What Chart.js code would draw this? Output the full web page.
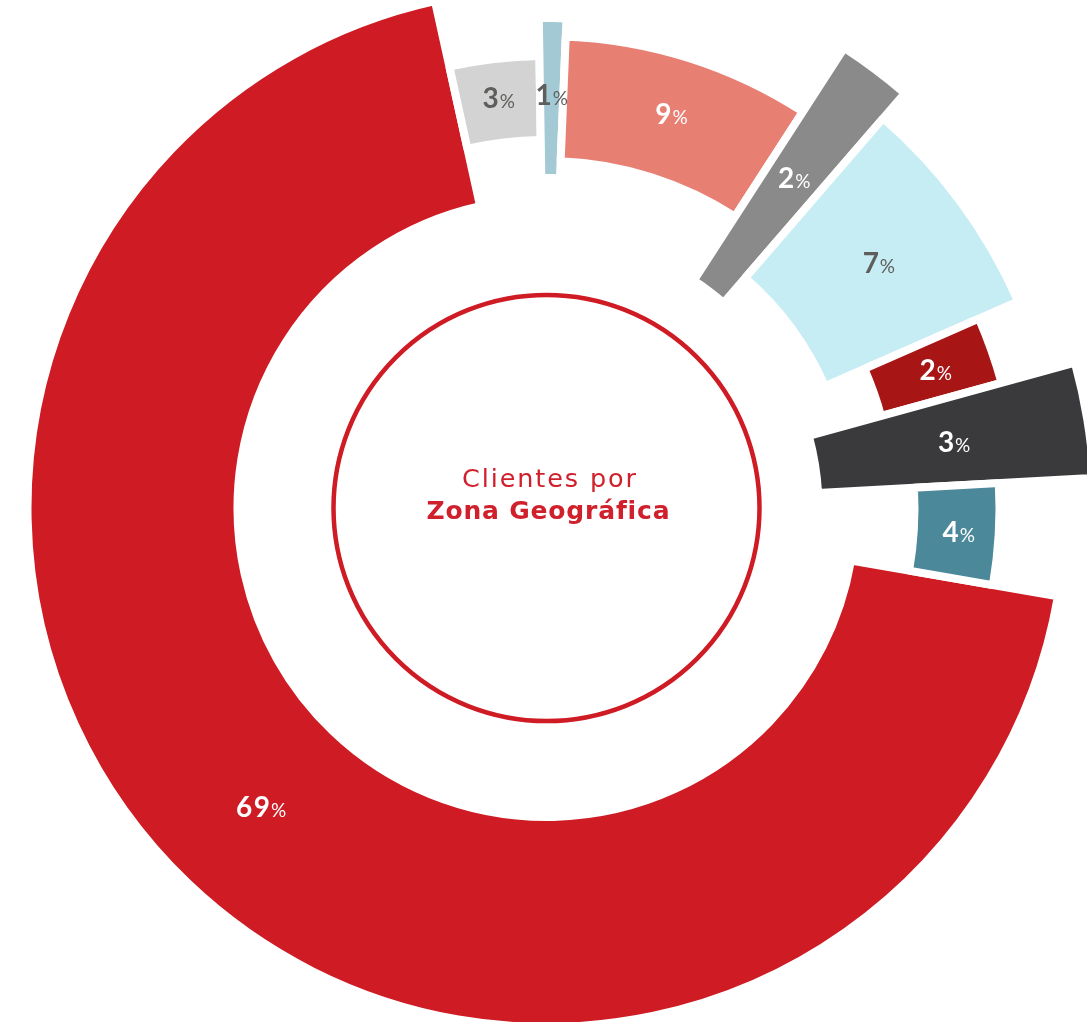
<!DOCTYPE html>
<html>
<head>
<meta charset="utf-8">
<title>Clientes por Zona Geográfica</title>
<script src="https://cdn.jsdelivr.net/npm/chart.js@4.4.1/dist/chart.umd.min.js"></script>
<style>
  html, body { margin: 0; padding: 0; background: #fff; }
  #wrap { width: 1087px; height: 1022px; }
</style>
</head>
<body>
<div id="wrap"><canvas id="zonaChart"></canvas></div>
<script>
// Zones, clockwise from the big slice (shares)
const zones = ['Zona 1', 'Zona 2', 'Zona 3', 'Zona 4', 'Zona 5', 'Zona 6', 'Zona 7', 'Zona 8', 'Zona 9'];
const shares = [68.9, 3.2, 0.9, 8.5, 2.2, 7.1, 2.3, 3.4, 3.6];
const centerTitle = ['Clientes por', 'Zona Geográfica'];

const sliceColors = ['#CE1B24', '#D3D3D3', '#A2C9D4', '#E87F73', '#8A8A8A', '#C7EDF4', '#A81515', '#3A3A3C', '#4B8899'];
const labelColors = ['#fff', '#5E5E5C', '#5E5E5C', '#fff', '#fff', '#5E5E5C', '#fff', '#fff', '#fff'];
// ring band of each slice (inner, outer) in px, borders add the gap
const GAP = 8;
const bands = [[313, 515], [372, 448], [334, 486], [351, 468], [275, 544], [308, 511], [351, 468], [276, 544], [372, 449]];
const LABEL_R = 413;

// draws text char by char, spread to a given width, centred on x
function fitText(ctx, text, x, y, width) {
    const chars = [...text];
    const widths = chars.map(c => ctx.measureText(c).width);
    const natural = widths.reduce((a, b) => a + b, 0);
    const spacing = chars.length > 1 ? (width - natural) / (chars.length - 1) : 0;
    let cur = x - width / 2;
    ctx.textAlign = 'left';
    chars.forEach((c, i) => {
        ctx.fillText(c, cur, y);
        cur += widths[i] + spacing;
    });
}

// give each slice its own ring band
const bandPlugin = {
    id: 'bands',
    afterDatasetUpdate(chart, args) {
        args.meta.data.forEach((arc, i) => {
            arc.innerRadius = bands[i][0] - GAP / 2;
            arc.outerRadius = bands[i][1] + GAP / 2;
        });
    },
};

// percentage labels + centre title
const labelPlugin = {
    id: 'labels',
    afterDatasetsDraw(chart) {
        const ctx = chart.ctx;
        const meta = chart.getDatasetMeta(0);
        ctx.save();
        ctx.textBaseline = 'alphabetic';
        meta.data.forEach((arc, i) => {
            const { x, y, startAngle, endAngle } = arc.getProps(['x', 'y', 'startAngle', 'endAngle'], true);
            const mid = (startAngle + endAngle) / 2;
            const lx = x + Math.cos(mid) * LABEL_R;
            const ly = y + Math.sin(mid) * LABEL_R;
            const num = String(Math.round(shares[i]));
            ctx.font = 'bold 28px Lato';
            const w1 = ctx.measureText(num).width + (num.length - 1) * 1.5;
            ctx.font = '19px Lato';
            const w2 = ctx.measureText('%').width;
            const left = lx - (w1 + w2 + 1) / 2;
            ctx.fillStyle = labelColors[i];
            ctx.font = 'bold 28px Lato';
            fitText(ctx, num, left + w1 / 2, ly + 10, w1);
            ctx.font = '19px Lato';
            ctx.textAlign = 'left';
            ctx.fillText('%', left + w1 + 1, ly + 10);
        });

        const cx = meta.data[0].x;
        const cy = meta.data[0].y;
        ctx.beginPath();
        ctx.arc(cx, cy, 213, 0, Math.PI * 2);
        ctx.lineWidth = 4.5;
        ctx.strokeStyle = '#CE1B24';
        ctx.stroke();

        ctx.fillStyle = '#D0202C';
        ctx.font = '25.5px "DejaVu Sans"';
        fitText(ctx, centerTitle[0], cx + 2.5, cy - 21, 174);
        ctx.font = 'bold 25px "DejaVu Sans"';
        fitText(ctx, centerTitle[1], cx + 1.5, cy + 11, 243);
        ctx.restore();
    },
};

new Chart(document.getElementById('zonaChart'), {
    type: 'doughnut',
    data: {
        labels: zones,
        datasets: [{
            data: shares,
            backgroundColor: sliceColors,
            borderColor: '#fff',
            borderWidth: GAP,
            hoverOffset: 0,
            clip: false,
        }],
    },
    options: {
        responsive: true,
        maintainAspectRatio: false,
        animation: false,
        events: [],
        rotation: 99.8,
        layout: { padding: { left: 6, right: 0, top: 0, bottom: 6 } },
        plugins: {
            legend: { display: false },
            tooltip: { enabled: false },
        },
    },
    plugins: [bandPlugin, labelPlugin],
});
</script>
</body>
</html>
